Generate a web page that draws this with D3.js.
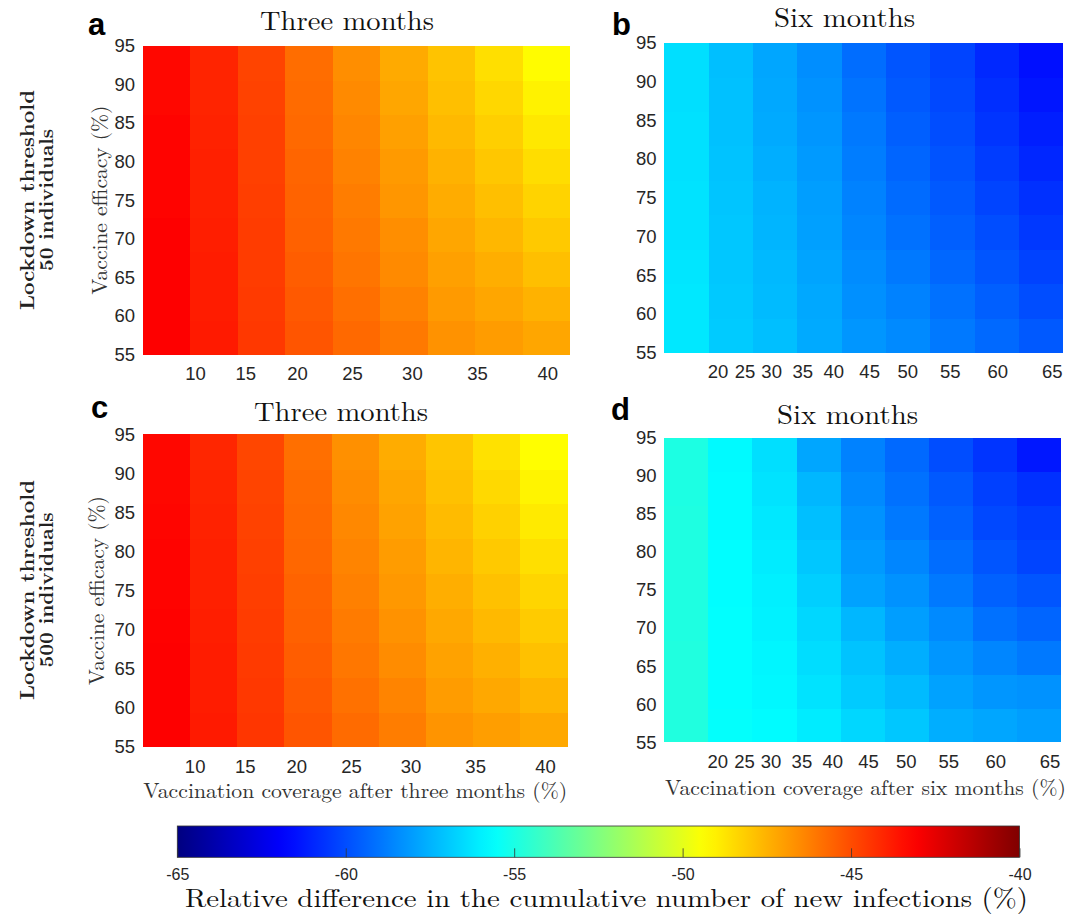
<!DOCTYPE html>
<html>
<head>
<meta charset="utf-8">
<script src="https://cdn.jsdelivr.net/npm/d3@7/dist/d3.min.js"></script>
<style>
  html, body { margin: 0; padding: 0; background: #fff; }
  svg { display: block; }
</style>
</head>
<body>
<svg id="chart" width="1067" height="916"></svg>
<script>
// ---------------- DATA ----------------
const efficacy = [55, 60, 65, 70, 75, 80, 85, 90, 95];       // rows (bottom -> top)
const scenarios = [1, 2, 3, 4, 5, 6, 7, 8, 9];               // columns (vaccination-rate levels)
const yTickValues = [55, 60, 65, 70, 75, 80, 85, 90, 95];

// x tick positions given in column units (column centres are 1..9)
const xTickPos3 = [1.60, 2.66, 3.75, 4.91, 6.17, 7.54, 9.02];
const xTickLabels3 = ["10", "15", "20", "25", "30", "35", "40"];
const xTickPos6 = [1.70, 2.31, 2.91, 3.61, 4.31, 5.12, 5.98, 6.94, 8.01, 9.24];
const xTickLabels6 = ["20", "25", "30", "35", "40", "45", "50", "55", "60", "65"];

const colorTicks = [-65, -60, -55, -50, -45, -40];
const colorDomain = [-65, -40];

// values: one array per efficacy row (55 ... 95), 9 columns each
const valuesA = [
  [-43.1, -43.75, -44.5, -45.2, -45.7, -46.1, -46.7, -46.95, -47.2],
  [-43.1, -43.8, -44.55, -45.3, -45.85, -46.3, -46.9, -47.2, -47.5],
  [-43.1, -43.8, -44.6, -45.4, -46.0, -46.5, -47.05, -47.4, -47.8],
  [-43.1, -43.85, -44.6, -45.5, -46.1, -46.6, -47.2, -47.6, -48.05],
  [-43.2, -43.9, -44.65, -45.55, -46.2, -46.8, -47.35, -47.8, -48.3],
  [-43.2, -43.9, -44.7, -45.6, -46.3, -46.9, -47.5, -48.0, -48.55],
  [-43.2, -43.95, -44.7, -45.7, -46.4, -47.05, -47.65, -48.2, -48.8],
  [-43.3, -44.0, -44.75, -45.75, -46.5, -47.2, -47.8, -48.4, -49.05],
  [-43.3, -44.0, -44.8, -45.8, -46.6, -47.3, -47.9, -48.6, -49.3]
];
const valuesB = [
  [-56.2, -56.9, -57.2, -57.7, -58.2, -58.5, -58.9, -59.3, -59.7],
  [-56.2, -56.95, -57.3, -57.75, -58.35, -58.7, -59.1, -59.55, -60.0],
  [-56.25, -57.0, -57.35, -57.85, -58.45, -58.9, -59.35, -59.8, -60.25],
  [-56.3, -57.0, -57.45, -57.95, -58.6, -59.1, -59.55, -60.0, -60.5],
  [-56.3, -57.05, -57.5, -58.0, -58.7, -59.25, -59.7, -60.2, -60.7],
  [-56.35, -57.1, -57.6, -58.1, -58.8, -59.4, -59.85, -60.4, -60.95],
  [-56.35, -57.15, -57.7, -58.2, -58.9, -59.55, -60.0, -60.6, -61.15],
  [-56.4, -57.15, -57.75, -58.3, -59.05, -59.7, -60.1, -60.75, -61.35],
  [-56.4, -57.2, -57.8, -58.4, -59.2, -59.8, -60.2, -60.9, -61.5]
];
const valuesC = [
  [-43.1, -43.75, -44.45, -45.2, -45.75, -46.2, -46.75, -47.0, -47.25],
  [-43.1, -43.8, -44.5, -45.3, -45.9, -46.35, -46.95, -47.25, -47.55],
  [-43.1, -43.8, -44.55, -45.4, -46.05, -46.55, -47.1, -47.45, -47.85],
  [-43.15, -43.85, -44.6, -45.5, -46.15, -46.7, -47.25, -47.65, -48.1],
  [-43.2, -43.9, -44.65, -45.55, -46.25, -46.85, -47.4, -47.85, -48.35],
  [-43.2, -43.9, -44.7, -45.65, -46.35, -46.95, -47.55, -48.05, -48.6],
  [-43.25, -43.95, -44.75, -45.7, -46.45, -47.1, -47.7, -48.25, -48.85],
  [-43.3, -44.0, -44.8, -45.75, -46.55, -47.2, -47.85, -48.45, -49.1],
  [-43.3, -44.05, -44.85, -45.85, -46.65, -47.35, -47.95, -48.65, -49.35]
];
const valuesD = [
  [-54.85, -55.55, -55.7, -56.1, -56.6, -57.0, -57.6, -57.8, -58.0],
  [-54.85, -55.6, -55.8, -56.3, -56.9, -57.3, -57.9, -58.2, -58.3],
  [-54.85, -55.6, -55.85, -56.45, -57.1, -57.6, -58.2, -58.6, -58.9],
  [-54.9, -55.6, -55.95, -56.6, -57.4, -58.0, -58.5, -59.1, -59.4],
  [-54.9, -55.65, -56.0, -56.8, -57.9, -58.3, -58.9, -59.5, -59.8],
  [-54.9, -55.65, -56.1, -57.0, -58.1, -58.6, -59.2, -59.8, -60.2],
  [-54.9, -55.7, -56.2, -57.2, -58.3, -58.9, -59.5, -60.1, -60.4],
  [-54.95, -55.7, -56.3, -57.4, -58.5, -59.1, -59.7, -60.3, -60.7],
  [-54.95, -55.75, -56.4, -57.8, -58.7, -59.3, -60.0, -60.6, -61.3]
];

// ---------------- COLOR MAP (MATLAB jet) ----------------
function jet(t) {
  const c = v => Math.max(0, Math.min(1, v));
  const r = c(Math.min(4 * t - 1.5, -4 * t + 4.5));
  const g = c(Math.min(4 * t - 0.5, -4 * t + 3.5));
  const b = c(Math.min(4 * t + 0.5, -4 * t + 2.5));
  return d3.rgb(Math.round(r * 255), Math.round(g * 255), Math.round(b * 255)).toString();
}
const color = d3.scaleSequential(jet).domain(colorDomain);

// ---------------- DRAW ----------------
const svg = d3.select("#chart");
const SANS = "'Liberation Sans', Arial, Helvetica, sans-serif";
const SERIF = "'Latin Modern Roman', 'CMU Serif', 'Liberation Serif', 'Times New Roman', serif";
const TXT = "#262626";

const panels = [
  { letter: "a", lx: 88, ly: 35, title: "Three months", tx: 347, ty: 30, x0: 142.7, x1: 570, y0: 45.7, y1: 354.7,
    values: valuesA, ticks: xTickPos3, labels: xTickLabels3, ylab: true, ylx: 107, xlab: null },
  { letter: "b", lx: 612, ly: 35, title: "Six months", tx: 844.5, ty: 27, x0: 664.3, x1: 1063.3, y0: 42.6, y1: 352.7,
    values: valuesB, ticks: xTickPos6, labels: xTickLabels6, ylab: false, xlab: null },
  { letter: "c", lx: 91, ly: 418, title: "Three months", tx: 341, ty: 421, x0: 142.7, x1: 567.7, y0: 434.3, y1: 747,
    values: valuesC, ticks: xTickPos3, labels: xTickLabels3, ylab: true, ylx: 104,
    xlab: "Vaccination coverage after three months (%)", xlx: 355.3, xly: 798, xlw: 424 },
  { letter: "d", lx: 611, ly: 420, title: "Six months", tx: 847.5, ty: 424, x0: 664.3, x1: 1061, y0: 437.7, y1: 742.3,
    values: valuesD, ticks: xTickPos6, labels: xTickLabels6, ylab: false,
    xlab: "Vaccination coverage after six months (%)", xlx: 865.5, xly: 795, xlw: 401 }
];

panels.forEach(p => {
  const g = svg.append("g");
  const xBand = d3.scaleBand().domain(scenarios).range([p.x0, p.x1]).padding(0);
  const yBand = d3.scaleBand().domain(efficacy).range([p.y1, p.y0]).padding(0);
  const xLin = d3.scaleLinear().domain([0.5, 9.5]).range([p.x0, p.x1]);
  const yLin = d3.scaleLinear().domain([55, 95]).range([p.y1, p.y0]);

  const cells = [];
  p.values.forEach((row, ri) => row.forEach((v, ci) => cells.push({ e: efficacy[ri], s: scenarios[ci], v })));
  g.selectAll("rect.cell").data(cells).enter().append("rect")
    .attr("class", "cell")
    .attr("x", d => xBand(d.s))
    .attr("y", d => yBand(d.e))
    .attr("width", d => xBand.bandwidth() + (d.s === scenarios[scenarios.length - 1] ? 0 : 0.5))
    .attr("height", d => yBand.bandwidth() + (d.e === efficacy[0] ? 0 : 0.5))
    .attr("fill", d => color(d.v))
    .attr("shape-rendering", "crispEdges");

  // y axis
  const ya = g.append("g").attr("transform", `translate(${p.x0},0)`)
    .call(d3.axisLeft(yLin).tickValues(yTickValues).tickSize(0).tickPadding(7.7));
  ya.select(".domain").remove();
  ya.selectAll("text").attr("font-family", SANS).attr("font-size", "18.5px").attr("fill", TXT);

  // x axis
  const xa = g.append("g").attr("transform", `translate(0,${p.y1})`)
    .call(d3.axisBottom(xLin).tickValues(p.ticks).tickSize(0).tickPadding(12.5)
      .tickFormat((d, i) => p.labels[i]));
  xa.select(".domain").remove();
  xa.selectAll("text").attr("font-family", SANS).attr("font-size", "18.5px").attr("fill", TXT);

  // title
  svg.append("text").attr("x", p.tx).attr("y", p.ty).attr("text-anchor", "middle")
    .attr("font-family", SERIF).attr("font-size", "27px").attr("fill", "#111")
    .attr("textLength", p.title === "Three months" ? 174 : 141).attr("lengthAdjust", "spacingAndGlyphs")
    .text(p.title);

  // panel letter
  svg.append("text").attr("x", p.lx).attr("y", p.ly).attr("font-family", SANS)
    .attr("font-weight", "bold").attr("font-size", "31px").attr("fill", "#000").text(p.letter);

  if (p.ylab) {
    const cy = (p.y0 + p.y1) / 2;
    svg.append("text").attr("transform", `translate(${p.ylx},${cy}) rotate(-90)`)
      .attr("text-anchor", "middle").attr("font-family", SERIF).attr("font-size", "21px").attr("fill", "#333")
      .attr("textLength", 189).attr("lengthAdjust", "spacingAndGlyphs")
      .text("Vaccine efficacy (%)");
  }
  if (p.xlab) {
    svg.append("text").attr("x", p.xlx).attr("y", p.xly).attr("text-anchor", "middle")
      .attr("font-family", SERIF).attr("font-size", "21px").attr("fill", "#333")
      .attr("textLength", p.xlw).attr("lengthAdjust", "spacingAndGlyphs")
      .text(p.xlab);
  }
});

// row labels
const rowLabels = [
  { l1: "Lockdown threshold", l2: "50 individuals", cy: 200, w1: 220, w2: 142 },
  { l1: "Lockdown threshold", l2: "500 individuals", cy: 590, w1: 220, w2: 155 }
];
rowLabels.forEach(r => {
  svg.append("text").attr("transform", `translate(33.5,${r.cy}) rotate(-90)`)
    .attr("text-anchor", "middle").attr("font-family", SERIF).attr("font-weight", "bold")
    .attr("font-size", "19.5px").attr("fill", "#222")
    .attr("textLength", r.w1).attr("lengthAdjust", "spacingAndGlyphs").text(r.l1);
  svg.append("text").attr("transform", `translate(52.5,${r.cy}) rotate(-90)`)
    .attr("text-anchor", "middle").attr("font-family", SERIF).attr("font-weight", "bold")
    .attr("font-size", "19.5px").attr("fill", "#222")
    .attr("textLength", r.w2).attr("lengthAdjust", "spacingAndGlyphs").text(r.l2);
});

// ---------------- COLORBAR ----------------
const cb = { x0: 177.3, x1: 1019.5, y0: 826, y1: 857.3 };
const cbX = d3.scaleLinear().domain(colorDomain).range([cb.x0, cb.x1]);
const defs = svg.append("defs");
const grad = defs.append("linearGradient").attr("id", "jetgrad").attr("x1", "0%").attr("x2", "100%");
d3.range(0, 1.0001, 0.02).forEach(t => {
  grad.append("stop").attr("offset", (t * 100) + "%").attr("stop-color", color(colorDomain[0] + t * (colorDomain[1] - colorDomain[0])));
});
svg.append("rect").attr("x", cb.x0).attr("y", cb.y0).attr("width", cb.x1 - cb.x0).attr("height", cb.y1 - cb.y0)
  .attr("fill", "url(#jetgrad)").attr("stroke", "#333").attr("stroke-width", 0.8);

const cba = svg.append("g").attr("transform", `translate(0,${cb.y1})`)
  .call(d3.axisBottom(cbX).tickValues(colorTicks).tickSizeInner(-9).tickSizeOuter(0).tickPadding(11.5)
    .tickFormat(d3.format("d")));
cba.select(".domain").remove();
cba.selectAll("line").attr("stroke", "#333").attr("stroke-width", 0.8);
cba.selectAll("text").attr("font-family", SANS).attr("font-size", "16px").attr("fill", TXT)
  .text(d => String(d).replace("\u2212", "-"));

svg.append("text").attr("x", 606.5).attr("y", 906.5).attr("text-anchor", "middle")
  .attr("font-family", SERIF).attr("font-size", "26px").attr("fill", "#111")
  .attr("textLength", 843).attr("lengthAdjust", "spacingAndGlyphs")
  .text("Relative difference in the cumulative number of new infections (%)");
</script>
</body>
</html>
